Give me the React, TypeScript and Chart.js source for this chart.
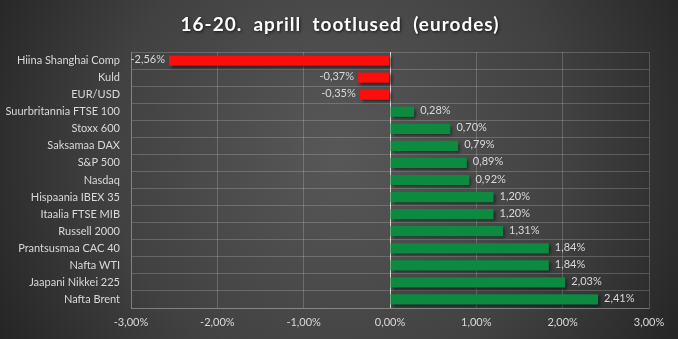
import React, { useEffect, useRef } from "react";
import { Chart, registerables } from "chart.js";

Chart.register(...registerables);

const TITLE = "16-20.  aprill  tootlused  (eurodes)";
const categories = [
  "Hiina Shanghai Comp",
  "Kuld",
  "EUR/USD",
  "Suurbritannia FTSE 100",
  "Stoxx 600",
  "Saksamaa DAX",
  "S&P 500",
  "Nasdaq",
  "Hispaania IBEX 35",
  "Itaalia FTSE MIB",
  "Russell 2000",
  "Prantsusmaa CAC 40",
  "Nafta WTI",
  "Jaapani Nikkei 225",
  "Nafta Brent",
];
const values = [-2.56, -0.37, -0.35, 0.28, 0.7, 0.79, 0.89, 0.92, 1.2, 1.2, 1.31, 1.84, 1.84, 2.03, 2.41];
const xMin = -3;
const xMax = 3;

const fmt = (v: number) => v.toFixed(2).replace(".", ",") + "%";
const FONT = "Lato, 'Open Sans', sans-serif";
const TEXT = "#d9d9d9";
const GRID = "rgba(255,255,255,0.19)";

const bgPlugin = {
  id: "bg",
  beforeDraw(chart: any) {
    const { ctx, width, height } = chart;
    ctx.save();
    const g = ctx.createRadialGradient(width * 0.5, height * 0.45, 0, width * 0.5, height * 0.45, width * 0.62);
    g.addColorStop(0, "#585858");
    g.addColorStop(0.55, "#414141");
    g.addColorStop(1, "#1f1f1f");
    ctx.fillStyle = g;
    ctx.fillRect(0, 0, width, height);
    ctx.restore();
  },
};

const shadowPlugin = {
  id: "barShadow",
  beforeDatasetsDraw(chart: any) {
    const ctx = chart.ctx;
    ctx.save();
    ctx.shadowColor = "rgba(0,0,0,0.55)";
    ctx.shadowBlur = 3;
    ctx.shadowOffsetX = 2;
    ctx.shadowOffsetY = 2;
  },
  afterDatasetsDraw(chart: any) {
    chart.ctx.restore();
  },
};

const labelPlugin = {
  id: "valueLabels",
  afterDatasetsDraw(chart: any) {
    const ctx = chart.ctx;
    const meta = chart.getDatasetMeta(0);
    const data = chart.data.datasets[0].data as number[];
    ctx.save();
    ctx.font = `11px ${FONT}`;
    ctx.fillStyle = TEXT;
    ctx.textBaseline = "middle";
    meta.data.forEach((bar: any, i: number) => {
      const v = data[i];
      if (v >= 0) {
        ctx.textAlign = "left";
        ctx.fillText(fmt(v), bar.x + 6, bar.y - 1);
      } else {
        ctx.textAlign = "right";
        ctx.fillText(fmt(v), bar.x - 4, bar.y - 1);
      }
    });
    ctx.restore();
  },
};

const titlePlugin = {
  id: "customTitle",
  afterDraw(chart: any) {
    const ctx = chart.ctx;
    ctx.save();
    ctx.font = `bold 19px ${FONT}`;
    (ctx as any).letterSpacing = "1px";
    ctx.textAlign = "center";
    ctx.textBaseline = "middle";
    ctx.shadowColor = "rgba(0,0,0,0.7)";
    ctx.shadowBlur = 3;
    ctx.shadowOffsetX = 1;
    ctx.shadowOffsetY = 1;
    ctx.fillStyle = "#ffffff";
    ctx.fillText(TITLE, chart.width / 2 + 1, 25);
    ctx.restore();
  },
};

export default function App() {
  const ref = useRef<HTMLCanvasElement>(null);
  useEffect(() => {
    if (!ref.current) return;
    const chart = new Chart(ref.current, {
      type: "bar",
      data: {
        labels: categories,
        datasets: [
          {
            data: values,
            backgroundColor: values.map((v) => (v < 0 ? "#ff0d0d" : "#0b8a40")),
            borderWidth: 0,
            barPercentage: 0.6,
            categoryPercentage: 1,
          },
        ],
      },
      options: {
        indexAxis: "y",
        responsive: false,
        animation: false,
        layout: { padding: { top: 52, right: 29, left: 0, bottom: 0 } },
        plugins: {
          legend: { display: false },
          title: { display: false },
          tooltip: { enabled: false },
        },
        scales: {
          x: {
            min: xMin,
            max: xMax,
            ticks: {
              stepSize: 1,
              color: TEXT,
              font: { family: FONT, size: 11 },
              padding: 8,
              callback: (v: any) => fmt(Number(v)),
            },
            grid: {
              drawTicks: false,
              color: (c: any) => (c.tick && c.tick.value === 0 ? "#cfcfcf" : GRID),
            },
            border: { display: true, color: GRID },
            afterFit: (s: any) => {
              s.height = 31;
            },
          },
          y: {
            ticks: {
              color: TEXT,
              font: { family: FONT, size: 11 },
              padding: 11,
              autoSkip: false,
            },
            grid: { drawTicks: false, offset: true, color: GRID },
            border: { display: true, color: GRID },
            afterFit: (s: any) => {
              s.width = 131;
            },
          },
        },
      },
      plugins: [bgPlugin, shadowPlugin, labelPlugin, titlePlugin],
    } as any);
    return () => chart.destroy();
  }, []);
  return (
    <canvas
      ref={ref}
      width={678}
      height={339}
      style={{ display: "block", position: "fixed", left: 0, top: 0, width: 678, height: 339 }}
    />
  );
}
